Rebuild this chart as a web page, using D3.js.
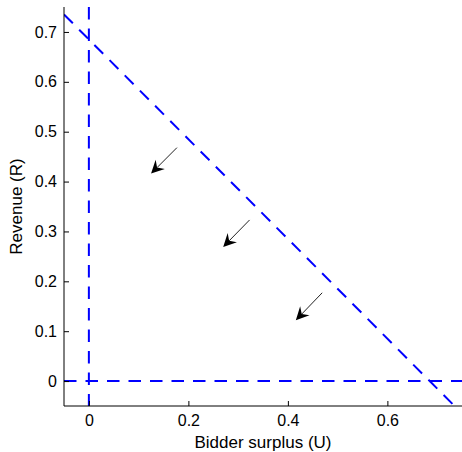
<!DOCTYPE html>
<html lang="en">
<head>
  <meta charset="UTF-8" />
  <title>Revenue vs Bidder surplus</title>
  <script src="https://d3js.org/d3.v7.min.js"></script>
  <style>
    body { margin: 0; background: #fff; font-family: "Liberation Sans", Arial, sans-serif; }
    .axis text { font-size: 16px; fill: #000; }
    .axis path, .axis line { stroke: #000; }
    .ref { fill: none; stroke: #0000ff; stroke-width: 2; stroke-dasharray: 12.5 9; }
  </style>
</head>
<body>
  <svg id="chart" width="462" height="452"></svg>

  <script>
    // data
    const xDomain = [-0.05, 0.75];
    const yDomain = [-0.05, 0.75];
    const xTicks = [0, 0.2, 0.4, 0.6];
    const yTicks = [0, 0.1, 0.2, 0.3, 0.4, 0.5, 0.6, 0.7];
    const frontier = [[-0.05, 0.735], [0.735, -0.05]];
    const vLine = [[0, 0.75], [0, -0.05]];
    const hLine = [[-0.05, 0], [0.75, 0]];
    // arrows: [U0, R0, U1, R1]
    const arrows = [
      [0.177, 0.468, 0.125, 0.416],
      [0.323, 0.323, 0.270, 0.269],
      [0.469, 0.177, 0.416, 0.122]
    ];

    const svg = d3.select("#chart");
    const margin = { left: 64, right: 0, top: 7, bottom: 46 };
    const W = 462, H = 452;

    const x = d3.scaleLinear().domain(xDomain).range([margin.left, W - margin.right]);
    const y = d3.scaleLinear().domain(yDomain).range([H - margin.bottom, margin.top]);

    svg.append("defs").append("clipPath").attr("id", "clip")
      .append("rect")
      .attr("x", x.range()[0]).attr("y", y.range()[1])
      .attr("width", x.range()[1] - x.range()[0])
      .attr("height", y.range()[0] - y.range()[1]);

    const line = d3.line().x(d => x(d[0])).y(d => y(d[1]));
    const g = svg.append("g").attr("clip-path", "url(#clip)");

    [hLine, vLine, frontier].forEach(pts => {
      g.append("path").attr("class", "ref").attr("d", line(pts));
    });

    // arrows
    arrows.forEach(a => {
      const x0 = x(a[0]), y0 = y(a[1]), x1 = x(a[2]), y1 = y(a[3]);
      const ang = Math.atan2(y1 - y0, x1 - x0);
      const len = 13, wid = 6.5, back = 8.5;
      const ux = Math.cos(ang), uy = Math.sin(ang);
      const px = -uy, py = ux;
      const bx = x1 - ux * len, by = y1 - uy * len;
      const mx = x1 - ux * back, my = y1 - uy * back;
      svg.append("line")
        .attr("x1", x0).attr("y1", y0).attr("x2", mx).attr("y2", my)
        .attr("stroke", "#222").attr("stroke-width", 1);
      svg.append("path")
        .attr("d", `M${x1},${y1}L${bx + px * wid},${by + py * wid}L${mx},${my}L${bx - px * wid},${by - py * wid}Z`)
        .attr("fill", "#000");
    });

    // axes
    svg.append("g").attr("class", "axis")
      .attr("transform", `translate(0,${y.range()[0]})`)
      .call(d3.axisBottom(x).tickValues(xTicks).tickSize(-5).tickPadding(9)
        .tickFormat(d => d === 0 ? "0" : d3.format(".1f")(d)))
      .call(s => s.select(".domain").attr("d", `M${x.range()[0]},0H${x.range()[1]}`));

    svg.append("g").attr("class", "axis")
      .attr("transform", `translate(${x.range()[0]},0)`)
      .call(d3.axisLeft(y).tickValues(yTicks).tickSize(-5).tickPadding(7)
        .tickFormat(d => d === 0 ? "0" : d3.format(".1f")(d)))
      .call(s => s.select(".domain").attr("d", `M0,${y.range()[0]}V${y.range()[1]}`));

    svg.append("text")
      .attr("x", (x.range()[0] + x.range()[1]) / 2).attr("y", 448)
      .attr("text-anchor", "middle").attr("font-size", 17)
      .text("Bidder surplus (U)");

    svg.append("text")
      .attr("transform", `translate(22,${(y.range()[0] + y.range()[1]) / 2}) rotate(-90)`)
      .attr("text-anchor", "middle").attr("font-size", 17)
      .text("Revenue (R)");
  </script>
</body>
</html>
